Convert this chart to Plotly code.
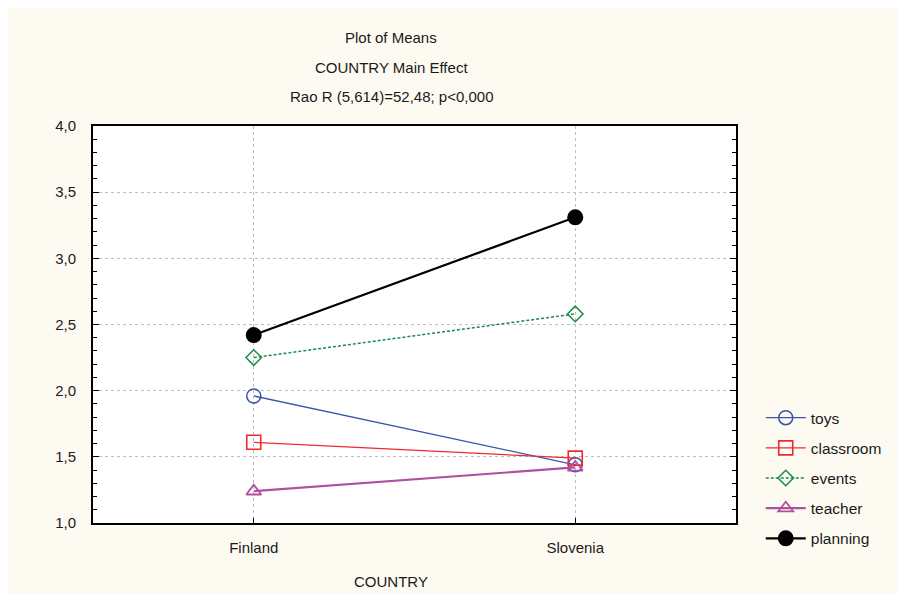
import plotly.graph_objects as go

countries = ["Finland", "Slovenia"]
series_names = ["toys", "classroom", "events", "teacher", "planning"]
toys = [1.96, 1.44]
classroom = [1.61, 1.49]
events = [2.25, 2.58]
teacher = [1.24, 1.42]
planning = [2.42, 3.31]
yticks = [1.0, 1.5, 2.0, 2.5, 3.0, 3.5, 4.0]

values = [toys, classroom, events, teacher, planning]
styles = [
    dict(color="#3A55A8", dash="solid", width=1.3, symbol="circle-open", size=14, mw=1.5),
    dict(color="#EE2A2E", dash="solid", width=1.3, symbol="square-open", size=14, mw=1.6),
    dict(color="#1B8A4B", dash="3px,2px", width=1.5, symbol="diamond-open", size=12, mw=1.5),
    dict(color="#B0509E", dash="solid", width=2.2, symbol="triangle-up-open", size=13, mw=1.8),
    dict(color="#000000", dash="solid", width=2.2, symbol="circle", size=16, mw=0),
]

W, H = 897, 586
L, T, PW, PH = 85, 118, 643, 397
R, B = W - L - PW, H - T - PH

x = list(range(len(countries)))
fig = go.Figure()
for name, vals, st in zip(series_names, values, styles):
    fig.add_trace(go.Scatter(
        x=x, y=vals, name=name, mode="lines+markers", legendgroup=name,
        line=dict(color=st["color"], dash=st["dash"], width=st["width"]),
        marker=dict(symbol=st["symbol"], size=st["size"], color=st["color"],
                    line=dict(color=st["color"], width=st["mw"])),
    ))

fam = "Liberation Sans, Arial, sans-serif"
axis_font = dict(family=fam, size=15, color="#1a1a1a")
fig.update_layout(
    width=W, height=H,
    paper_bgcolor="#FDFAF2", plot_bgcolor="#FFFFFF",
    margin=dict(l=L, r=R, t=T, b=B),
    font=axis_font,
    separators=",.",
    showlegend=True,
    legend=dict(x=1.0385, y=0.307, xanchor="left", yanchor="top",
                bgcolor="rgba(0,0,0,0)", tracegroupgap=7,
                font=dict(family=fam, size=15.5, color="#1a1a1a"),
                itemwidth=40),
    xaxis=dict(
        tickvals=x, ticktext=countries, range=[-0.5, 1.5],
        showline=True, linecolor="#000", linewidth=2, mirror=True,
        ticks="inside", ticklen=5, tickcolor="#000",
        showgrid=True, gridcolor="#BDBDBD", griddash="3px,3px", gridwidth=1,
        zeroline=False, tickfont=axis_font, ticklabelstandoff=10,
    ),
    yaxis=dict(
        range=[1.0, 4.0], tickvals=yticks, tickformat=".1f",
        showline=True, linecolor="#000", linewidth=2, mirror="allticks",
        ticks="inside", ticklen=6, tickcolor="#000",
        minor=dict(ticks="inside", dtick=0.1, ticklen=4, tickcolor="#000", showgrid=False),
        showgrid=True, gridcolor="#BDBDBD", griddash="3px,3px", gridwidth=1,
        zeroline=False, tickfont=axis_font, ticklabelstandoff=12,
    ),
)

title_font = dict(family=fam, size=15, color="#1a1a1a")
cx = (383 - L) / PW
for txt, py in [("Plot of Means", 29), ("COUNTRY Main Effect", 59), ("Rao R (5,614)=52,48; p<0,000", 89)]:
    fig.add_annotation(text=txt, xref="paper", yref="paper", x=cx,
                       y=1 + (T - py) / PH, showarrow=False,
                       xanchor="center", yanchor="middle", font=title_font)
fig.add_annotation(text="COUNTRY", xref="paper", yref="paper", x=cx,
                   y=-(573 - (T + PH)) / PH, showarrow=False,
                   xanchor="center", yanchor="middle", font=title_font)

fig.write_html("out.html")
